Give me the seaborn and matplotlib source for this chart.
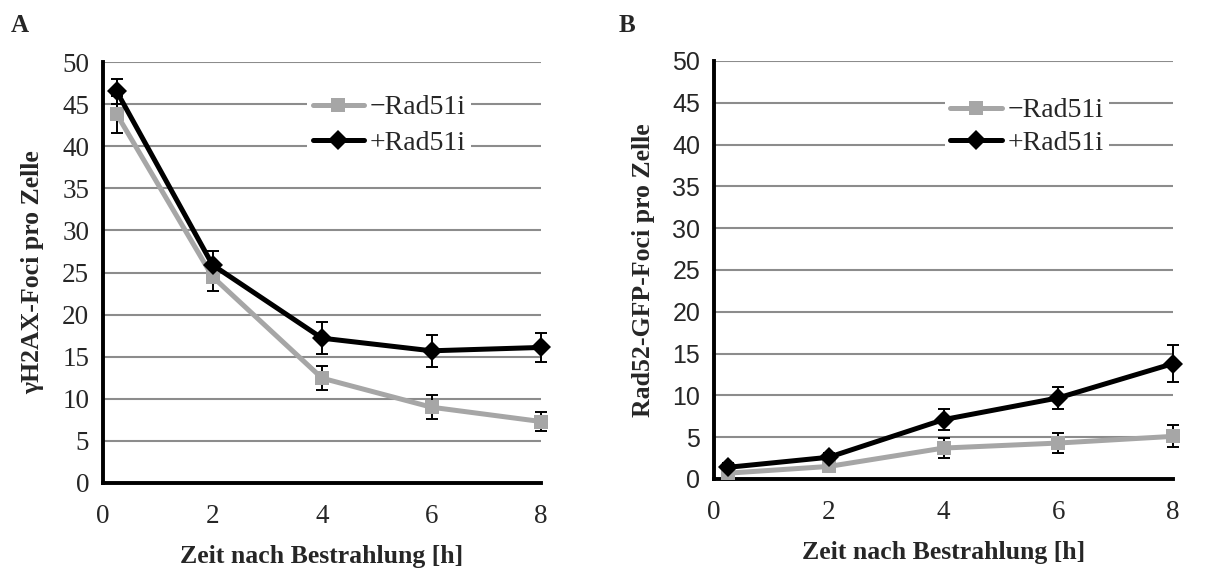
import numpy as np
import pandas as pd
import matplotlib
matplotlib.use("Agg")
import matplotlib.pyplot as plt
import seaborn as sns

# time points (h)
zeit = [0.25, 2, 4, 6, 8]

# panel A: gammaH2AX foci per cell
a_minus = [43.8, 24.5, 12.45, 9.0, 7.3]
a_minus_err = [2.2, 1.7, 1.4, 1.4, 1.1]
a_plus = [46.5, 25.9, 17.2, 15.7, 16.1]
a_plus_err = [1.5, 1.6, 1.9, 1.9, 1.7]

# panel B: Rad52-GFP foci per cell
b_minus = [0.7, 1.5, 3.7, 4.3, 5.1]
b_minus_err = [0.4, 0.5, 1.2, 1.2, 1.3]
b_plus = [1.4, 2.6, 7.1, 9.7, 13.8]
b_plus_err = [0.5, 0.5, 1.25, 1.35, 2.2]

labels = ["\u2212Rad51i", "+Rad51i"]
ylabels = ["\u03b3H2AX-Foci pro Zelle", "Rad52-GFP-Foci pro Zelle"]
grau = "#a6a6a6"

sns.set_style("white")
plt.rcParams["font.family"] = ["Liberation Serif", "DejaVu Serif"]

fig = plt.figure(figsize=(12.15, 5.72), dpi=100)
axA = fig.add_axes([0.0848, 0.1556, 0.3605, 0.7360])
axB = fig.add_axes([0.5877, 0.1626, 0.3777, 0.7308])

panels = [
    # ax, minus, minus err, plus, plus err, y tick font, y tick size, legend anchor, spacing, ylabel pad
    (axA, a_minus, a_minus_err, a_plus, a_plus_err, "Liberation Serif", 19.5, (0.466, 0.935), 0.36, 13),
    (axB, b_minus, b_minus_err, b_plus, b_plus_err, "Liberation Sans", 18, (0.503, 0.925), 0.25, 12),
]

for i, (ax, ym, em, yp, ep, yfont, ysize, anchor, lspace, ypad) in enumerate(panels):
    df = pd.DataFrame({
        "Zeit": zeit * 2,
        "Foci": ym + yp,
        "Gruppe": [labels[0]] * 5 + [labels[1]] * 5,
    })
    # error bars
    for y, e in [(ym, em), (yp, ep)]:
        ax.errorbar(zeit, y, yerr=e, fmt="none", ecolor="black", elinewidth=1.4,
                    capsize=4.5, capthick=1.4, zorder=2, clip_on=False)
    sns.lineplot(data=df, x="Zeit", y="Foci", hue="Gruppe", style="Gruppe",
                 palette=[grau, "black"], markers=["s", "D"], dashes=False,
                 markersize=10, linewidth=3.6, markeredgewidth=0, ax=ax,
                 zorder=3)
    for ln in ax.lines:
        ln.set_clip_on(False)

    ax.set_xlim(0, 8)
    ax.set_ylim(0, 50)
    ax.set_xticks([0, 2, 4, 6, 8])
    ax.set_yticks(np.arange(0, 51, 5))
    ax.yaxis.grid(True, color="#8c8c8c", linewidth=1.5)
    ax.set_axisbelow(True)
    sns.despine(ax=ax)
    for s in ["left", "bottom"]:
        ax.spines[s].set_linewidth(2.8)
        ax.spines[s].set_color("black")
    ax.tick_params(axis="x", direction="out", length=6, width=2.5, pad=9)
    ax.tick_params(axis="y", direction="inout", length=8, width=2, pad=6)
    for t in ax.get_xticklabels():
        t.set_fontfamily("Liberation Serif")
        t.set_fontsize(19.5)
    for t in ax.get_yticklabels():
        t.set_fontfamily(yfont)
        t.set_fontsize(ysize)
    ax.set_xlabel("Zeit nach Bestrahlung [h]", fontsize=18.5, fontweight="bold", labelpad=12)
    ax.set_ylabel(ylabels[i], fontsize=18.5, fontweight="bold", labelpad=ypad)

    leg = ax.legend(loc="upper left", bbox_to_anchor=anchor,
                    frameon=True, framealpha=1, edgecolor="white", fontsize=20,
                    handlelength=1.85, handletextpad=0.2, borderpad=0.2, labelspacing=lspace,
                    borderaxespad=0)
    leg.get_frame().set_linewidth(0)

fig.text(0.009, 0.955, "A", fontsize=18, fontweight="bold", va="center")
fig.text(0.509, 0.955, "B", fontsize=18, fontweight="bold", va="center")

fig.savefig("out.png", dpi=100)
